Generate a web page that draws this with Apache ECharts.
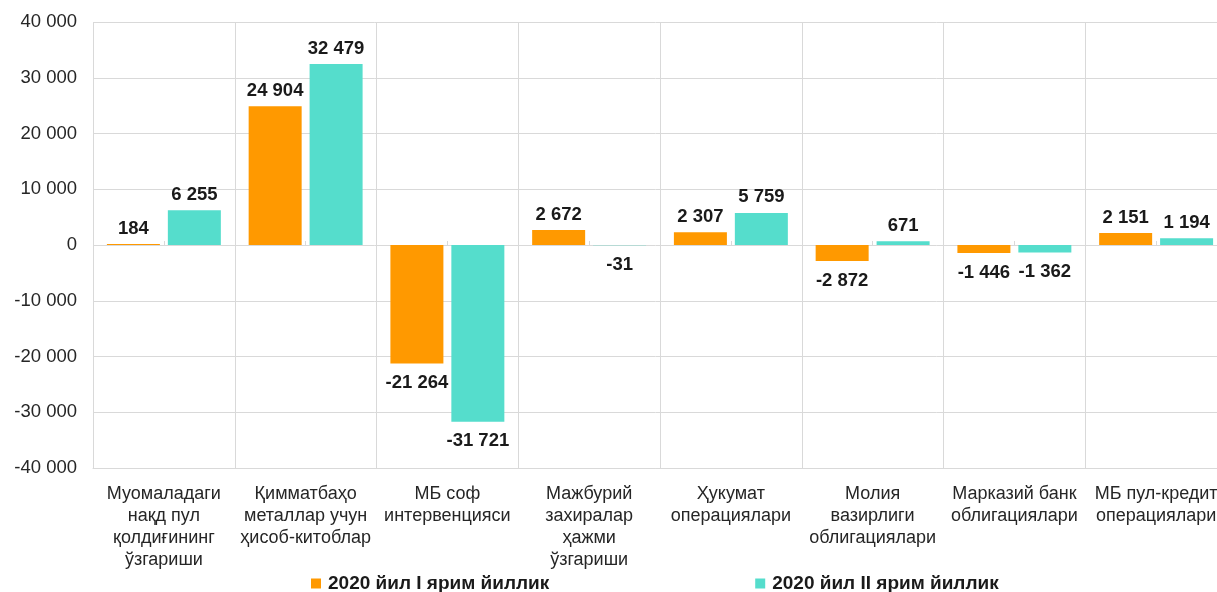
<!DOCTYPE html>
<html>
<head>
<meta charset="utf-8">
<script src="https://cdn.jsdelivr.net/npm/echarts@6/dist/echarts.min.js"></script>
<style>
html,body{margin:0;padding:0;overflow:hidden;background:#fff;}
#chart{width:1217px;height:592px;}
</style>
</head>
<body>
<div id="chart"></div>
<script>
var categories = [
  "Муомаладаги\nнақд пул\nқолдиғининг\nўзгариши",
  "Қимматбаҳо\nметаллар учун\nҳисоб-китоблар",
  "МБ соф\nинтервенцияси",
  "Мажбурий\nзахиралар\nҳажми\nўзгариши",
  "Ҳукумат\nоперациялари",
  "Молия\nвазирлиги\nоблигациялари",
  "Марказий банк\nоблигациялари",
  "МБ пул-кредит\nоперациялари"
];
var seriesNames = ["2020 йил I ярим йиллик", "2020 йил II ярим йиллик"];
var half1 = [184, 24904, -21264, 2672, 2307, -2872, -1446, 2151];
var half2 = [6255, 32479, -31721, -31, 5759, 671, -1362, 1194];
var yTicks = { min: -40000, max: 40000, interval: 10000 };

function fmt(v){
  var s = Math.abs(v).toString().replace(/\B(?=(\d{3})+(?!\d))/g, " ");
  return (v < 0 ? "-" : "") + s;
}

function makeData(arr){
  return arr.map(function(v){
    return {
      value: v,
      label: v < 0 ? { position: "bottom", distance: 10 } : { position: "top", distance: 6 }
    };
  });
}

var FONT = "Liberation Sans, Arial, sans-serif";
var chart = echarts.init(document.getElementById("chart"));
var labelStyle = {
  show: true,
  formatter: function(p){ return fmt(p.value); },
  fontFamily: FONT,
  fontSize: 18.5,
  fontWeight: "bold",
  color: "#1a1a1a"
};
chart.setOption({
  animation: false,
  textStyle: { fontFamily: FONT },
  grid: { left: 93, top: 22, width: 1134, height: 446, containLabel: false, outerBoundsMode: "none" },
  legend: {
    data: seriesNames,
    left: 306,
    top: 569,
    itemWidth: 10,
    itemHeight: 10,
    itemGap: 206,
    icon: "rect",
    textStyle: { fontSize: 19, fontWeight: "bold", color: "#1a1a1a", fontFamily: FONT, padding: [0, 0, 0, 2] }
  },
  xAxis: [
    {
      type: "category",
      data: categories,
      position: "bottom",
      axisLine: { onZero: false, show: true, lineStyle: { color: "#d9d9d9", width: 1 } },
      axisTick: { show: false },
      splitLine: { show: true, lineStyle: { color: "#d9d9d9", width: 1 } },
      axisLabel: {
        interval: 0,
        margin: 15,
        fontSize: 18,
        lineHeight: 22,
        color: "#262626",
        fontFamily: FONT
      }
    },
    {
      type: "category",
      data: categories,
      position: "bottom",
      axisLine: { onZero: true, show: false },
      axisTick: { show: true, alignWithLabel: true, inside: true, length: 4, lineStyle: { color: "#d9d9d9" } },
      splitLine: { show: false },
      axisLabel: { show: false }
    }
  ],
  yAxis: {
    type: "value",
    min: yTicks.min,
    max: yTicks.max,
    interval: yTicks.interval,
    axisLine: { show: false },
    axisTick: { show: false },
    splitLine: { show: true, lineStyle: { color: "#d9d9d9", width: 1 } },
    axisLabel: {
      fontSize: 18.5,
      margin: 16,
      color: "#262626",
      formatter: function(v){ return fmt(v); },
      fontFamily: FONT
    }
  },
  series: [
    {
      name: seriesNames[0],
      type: "bar",
      xAxisIndex: 0,
      data: makeData(half1),
      barWidth: 53,
      barGap: "15%",
      itemStyle: { color: "#FF9900" },
      label: labelStyle
    },
    {
      name: seriesNames[1],
      type: "bar",
      xAxisIndex: 0,
      data: makeData(half2),
      barWidth: 53,
      barGap: "15%",
      itemStyle: { color: "#55DDCC" },
      label: labelStyle
    }
  ]
});
</script>
</body>
</html>
